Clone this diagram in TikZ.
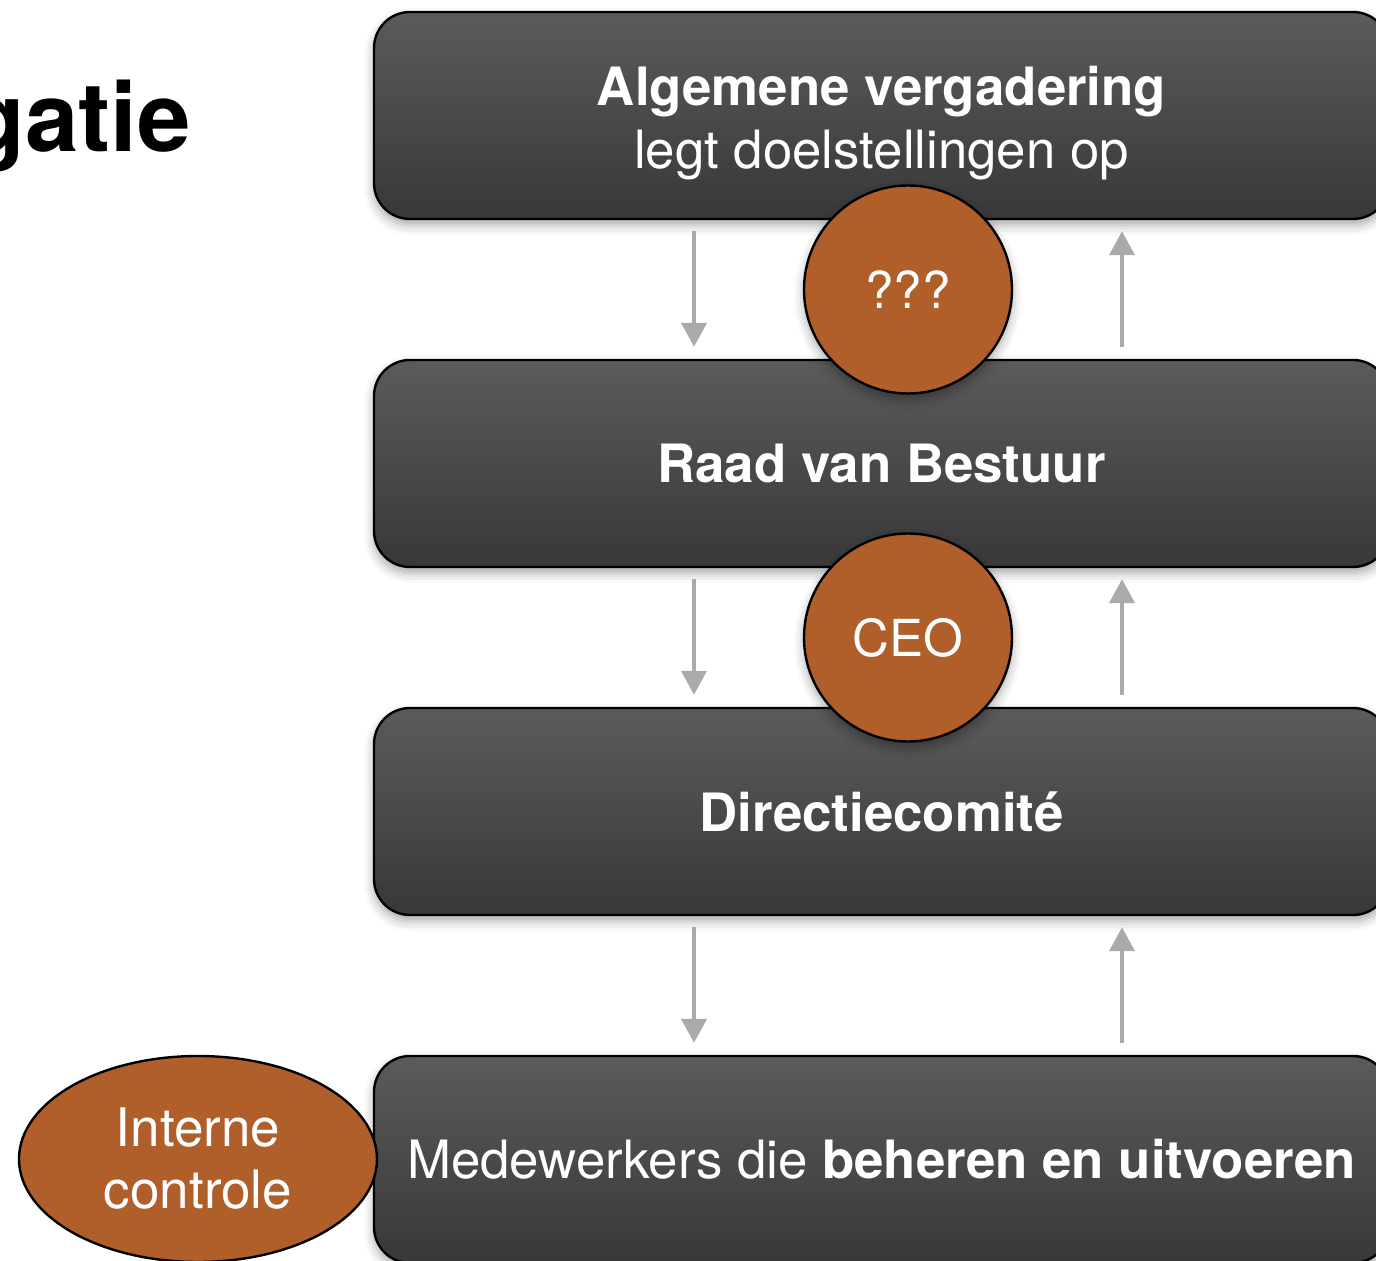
\documentclass[tikz,border=0pt]{standalone}
\usepackage{fontspec}
\setmainfont{TeX Gyre Heros}
\usepackage{tikz}
\usetikzlibrary{calc}
\usetikzlibrary{arrows.meta}
\usetikzlibrary{shapes.geometric}
\usetikzlibrary{shadows.blur}

\definecolor{paneltop}{HTML}{5B5B5B}
\definecolor{panelbot}{HTML}{383838}
\definecolor{rust}{HTML}{B05E2A}
\definecolor{flowgray}{HTML}{AAAAAA}

\tikzset{
    panel/.style={rounded corners=18pt, draw=black, line width=1.2pt,
        top color=paneltop, bottom color=panelbot,
        minimum width=507.5pt, minimum height=103.5pt, inner sep=0pt,
        blur shadow={shadow xshift=0pt, shadow yshift=-3pt, shadow blur radius=5pt, shadow opacity=35},
        text=white, font=\fontsize{26.4}{31.5}\selectfont},
    paneltext/.style={text=white, align=center, inner sep=0pt, font=\fontsize{26.4}{31.5}\selectfont},
    person/.style={circle, draw=black, line width=1.2pt, fill=rust,
        minimum size=104pt, inner sep=0pt,
        blur shadow={shadow xshift=0pt, shadow yshift=-3pt, shadow blur radius=5pt, shadow opacity=35},
        text=white, font=\fontsize{25.5}{30}\selectfont},
    ctrl/.style={ellipse, draw=black, line width=1.2pt, fill=rust,
        minimum width=179pt, minimum height=103pt, inner sep=0pt,
        text=white, align=center, font=\fontsize{26.5}{31}\selectfont},
    flow/.style={flowgray, line width=2pt, -{Triangle[width=12.5pt,length=12pt]}},
}

\begin{document}
\begin{tikzpicture}[x=0.5pt, y=-0.5pt]
    \useasboundingbox (0,0) rectangle (1376,1261);

    % title, cut off at the left
    \node[anchor=base east, inner sep=0pt, font=\fontsize{48}{48}\selectfont\bfseries] (title) at (191,152) {gatie};

    % the four levels
    \node[panel] (alg) at (881.5,115.5) {};
    \node[paneltext] (algtxt) at (881.5,123) {{\bfseries Algemene vergadering}\\legt doelstellingen op};
    \node[panel] (raad) at (881.5,463.5) {\bfseries Raad van Bestuur};
    \node[panel] (dir) at (881.5,811.5) {\bfseries Directiecomité};
    \node[panel] (mdw) at (881.5,1159.5) {Medewerkers die \textbf{beheren en uitvoeren}};

    % down and up
    \coordinate (dn) at (694,0);
    \coordinate (up) at (1122,0);
    \foreach \a/\b in {alg/raad, raad/dir, dir/mdw} {
        \draw[flow, shorten <=5.5pt, shorten >=6pt] (\a.south -| dn) -- (\b.north -| dn);
        \draw[flow, shorten <=6pt, shorten >=5.5pt] (\b.north -| up) -- (\a.south -| up);
    }

    \node[person] (q) at (908,289.5) {???};
    \node[person] (ceo) at (908,637.5) {CEO};

    \node[ctrl] (ic) at (198,1159) {Interne\\controle};
\end{tikzpicture}
\end{document}
